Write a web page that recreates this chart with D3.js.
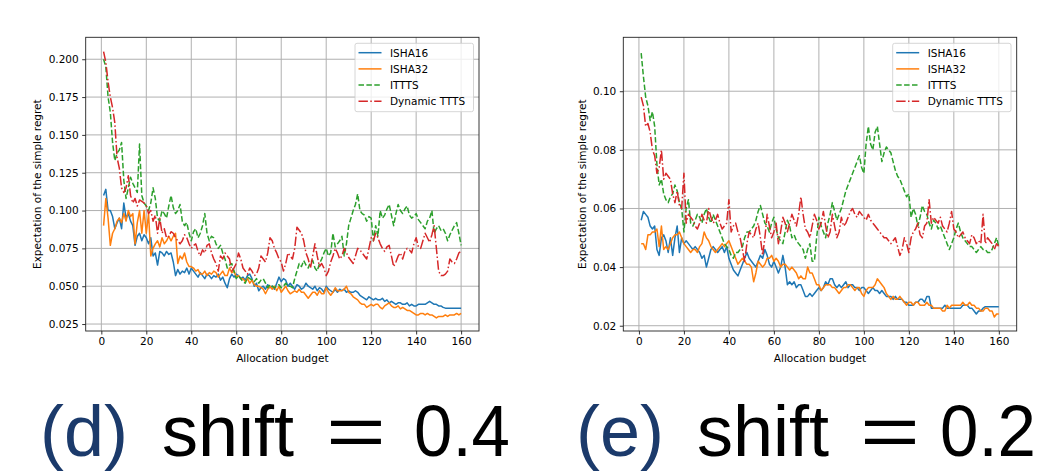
<!DOCTYPE html>
<html><head><meta charset="utf-8">
<script src="https://cdn.jsdelivr.net/npm/d3@7"></script>
<style>
html,body{margin:0;padding:0;background:#fff;}
svg{display:block;}
</style></head>
<body>
<svg id="chart" width="1052" height="472"></svg>
<script>
// ---------- data ----------
const seriesNames = ["ISHA16", "ISHA32", "ITTTS", "Dynamic TTTS"];
const xTicks = [0, 20, 40, 60, 80, 100, 120, 140, 160];
const yTicksD = [0.025, 0.050, 0.075, 0.100, 0.125, 0.150, 0.175, 0.200];
const yTicksE = [0.02, 0.04, 0.06, 0.08, 0.10];
const captionD = ["(d)", "shift", "=", "0.4"];
const captionE = ["(e)", "shift", "=", "0.2"];

// panel (d): shift = 0.4
const d_isha16 = [
.110,.114,.100,.100,.096,.088,.092,.095,.088,.105,
.095,.098,.093,.090,.077,.083,.085,.080,.084,.082,
.078,.082,.070,.072,.064,.073,.072,.070,.073,.071,
.072,.066,.057,.061,.058,.060,.059,.062,.058,.062,
.060,.058,.056,.059,.057,.055,.058,.057,.055,.057,
.056,.058,.054,.056,.052,.049,.055,.058,.056,.058,
.057,.055,.056,.054,.057,.058,.055,.050,.052,.047,
.049,.050,.048,.051,.049,.050,.048,.052,.056,.053,
.055,.054,.050,.052,.050,.048,.051,.050,.048,.049,
.052,.050,.049,.048,.050,.047,.049,.048,.046,.050,
.048,.047,.046,.048,.046,.048,.047,.048,.046,.047,
.046,.046,.047,.046,.044,.043,.042,.041,.043,.042,
.041,.042,.041,.041,.042,.040,.041,.039,.040,.039,
.038,.039,.039,.038,.038,.039,.037,.038,.037,.037,
.038,.038,.038,.038,.039,.040,.039,.038,.038,.037,
.037,.036,.0355,.0355,.0355,.0355,.0355,.0355,.0355,.0355];
const d_isha32 = [
.090,.108,.095,.077,.085,.088,.093,.095,.092,.098,
.093,.100,.096,.098,.078,.092,.100,.085,.100,.085,
.098,.070,.075,.078,.080,.076,.082,.078,.080,.083,
.080,.083,.085,.065,.070,.068,.072,.066,.063,.063,
.062,.060,.061,.058,.058,.060,.057,.059,.058,.060,
.059,.056,.058,.060,.057,.057,.062,.059,.060,.056,
.057,.055,.055,.053,.055,.052,.054,.051,.050,.050,
.049,.048,.045,.048,.050,.048,.050,.047,.050,.046,
.048,.050,.047,.045,.046,.047,.046,.048,.046,.046,
.044,.042,.044,.046,.046,.044,.047,.045,.045,.049,
.046,.044,.046,.049,.047,.047,.047,.048,.050,.046,
.045,.043,.042,.041,.039,.038,.038,.036,.037,.038,
.037,.038,.038,.036,.035,.037,.038,.039,.037,.036,
.036,.037,.035,.036,.035,.034,.034,.033,.032,.031,
.031,.032,.032,.031,.032,.031,.031,.030,.029,.030,
.030,.030,.031,.030,.031,.031,.031,.032,.031,.032];
const d_itts = [
.200,.195,.175,.165,.145,.133,.138,.140,.145,.120,
.108,.115,.122,.118,.115,.112,.144,.110,.105,.103,
.100,.105,.115,.108,.095,.093,.100,.098,.095,.103,
.110,.102,.098,.100,.104,.093,.090,.092,.085,.080,
.086,.088,.082,.085,.090,.098,.085,.080,.083,.082,
.078,.075,.077,.072,.068,.062,.064,.065,.060,.055,
.057,.055,.053,.052,.056,.055,.054,.053,.055,.052,
.054,.055,.052,.049,.051,.050,.049,.050,.051,.049,
.050,.052,.050,.050,.049,.055,.060,.065,.063,.067,
.064,.062,.066,.067,.062,.060,.065,.068,.072,.075,
.070,.072,.085,.076,.078,.080,.083,.070,.078,.090,
.095,.100,.104,.111,.100,.098,.097,.093,.096,.095,
.080,.090,.083,.100,.095,.097,.101,.104,.097,.090,
.098,.104,.100,.098,.101,.103,.097,.095,.096,.098,
.094,.092,.090,.088,.093,.095,.100,.085,.088,.090,
.087,.088,.085,.080,.084,.087,.090,.092,.085,.077];
const d_dyn = [
.205,.198,.185,.175,.168,.158,.135,.128,.115,.112,
.115,.123,.110,.105,.108,.103,.107,.106,.105,.103,
.098,.100,.093,.097,.085,.095,.085,.088,.082,.083,
.086,.085,.082,.080,.078,.080,.084,.082,.078,.075,
.077,.078,.073,.070,.074,.072,.077,.078,.072,.068,
.065,.060,.070,.068,.072,.070,.068,.060,.062,.065,
.072,.068,.062,.060,.058,.062,.060,.057,.058,.062,
.070,.068,.066,.072,.082,.080,.075,.072,.068,.066,
.060,.065,.072,.070,.068,.075,.089,.087,.085,.080,
.072,.068,.062,.070,.078,.070,.063,.065,.062,.057,
.060,.066,.070,.075,.072,.068,.070,.075,.072,.069,
.067,.065,.070,.075,.074,.072,.070,.068,.075,.082,
.080,.085,.082,.078,.075,.073,.076,.077,.070,.063,
.066,.070,.072,.068,.073,.075,.074,.072,.078,.082,
.076,.075,.080,.085,.082,.079,.084,.090,.075,.060,
.057,.057,.058,.060,.068,.066,.065,.068,.072,.073];

// panel (e): shift = 0.2
const e_isha16 = [
.056,.059,.058,.057,.054,.053,.054,.046,.044,.050,
.051,.049,.045,.050,.044,.050,.054,.045,.050,.048,
.049,.048,.047,.046,.047,.046,.045,.043,.044,.040,
.043,.046,.047,.046,.045,.046,.047,.045,.047,.043,
.041,.039,.038,.037,.039,.041,.043,.045,.043,.042,
.041,.040,.042,.044,.043,.046,.044,.041,.040,.042,
.040,.038,.040,.044,.040,.034,.035,.034,.035,.033,
.034,.034,.032,.030,.030,.031,.030,.031,.032,.033,
.032,.033,.035,.034,.036,.036,.034,.033,.034,.033,
.034,.035,.033,.034,.034,.033,.033,.032,.033,.033,
.032,.031,.032,.033,.032,.032,.031,.032,.031,.030,
.030,.030,.029,.030,.029,.029,.029,.028,.028,.027,
.027,.027,.028,.028,.029,.029,.028,.030,.030,.026,
.026,.026,.026,.026,.026,.027,.026,.026,.026,.026,
.026,.026,.026,.027,.027,.027,.026,.026,.025,.024,
.025,.025,.026,.0265,.0265,.0265,.0265,.0265,.0265,.0265];
const e_isha32 = [
.048,.048,.046,.051,.051,.052,.052,.053,.047,.054,
.046,.047,.046,.048,.050,.051,.051,.052,.050,.048,
.047,.046,.045,.046,.046,.045,.047,.048,.052,.050,
.049,.047,.046,.045,.046,.047,.048,.047,.048,.049,
.047,.045,.043,.041,.042,.043,.042,.041,.041,.040,
.035,.038,.042,.041,.040,.041,.043,.043,.044,.042,
.043,.042,.040,.041,.041,.040,.039,.040,.039,.038,
.036,.037,.036,.036,.040,.038,.038,.036,.034,.034,
.032,.033,.034,.034,.034,.033,.033,.032,.031,.032,
.033,.033,.034,.034,.033,.032,.033,.033,.031,.030,
.032,.033,.033,.033,.034,.036,.035,.034,.033,.031,
.030,.029,.030,.029,.029,.030,.029,.028,.027,.028,
.028,.027,.028,.028,.027,.027,.027,.028,.027,.027,
.026,.026,.026,.026,.025,.025,.027,.026,.027,.027,
.027,.027,.027,.028,.027,.027,.028,.027,.027,.026,
.026,.025,.025,.026,.026,.025,.025,.023,.024,.024];
const e_itts = [
.113,.105,.098,.095,.090,.093,.088,.075,.068,.070,
.065,.063,.062,.064,.065,.068,.066,.062,.060,.052,
.060,.063,.055,.054,.056,.058,.057,.055,.058,.060,
.057,.055,.058,.056,.054,.052,.050,.048,.047,.046,
.044,.043,.045,.045,.046,.047,.050,.052,.052,.053,
.054,.056,.059,.061,.058,.055,.054,.052,.055,.057,
.053,.050,.049,.048,.052,.056,.054,.050,.051,.049,
.048,.047,.046,.043,.046,.048,.042,.042,.050,.057,
.054,.052,.050,.055,.058,.062,.059,.056,.058,.060,
.063,.066,.068,.070,.072,.074,.076,.078,.074,.072,
.082,.088,.082,.080,.086,.088,.082,.076,.079,.081,
.080,.079,.076,.073,.071,.070,.068,.066,.064,.065,
.057,.060,.058,.054,.057,.061,.059,.058,.055,.053,
.056,.055,.053,.054,.052,.050,.048,.046,.048,.050,
.053,.055,.052,.050,.049,.048,.047,.047,.046,.045,
.046,.047,.046,.046,.045,.045,.046,.048,.050,.047];
const e_dyn = [
.098,.095,.088,.089,.086,.080,.078,.072,.074,.080,
.070,.072,.071,.070,.065,.062,.066,.061,.060,.072,
.055,.058,.057,.056,.054,.053,.055,.058,.056,.055,
.060,.057,.055,.056,.058,.055,.053,.054,.055,.063,
.052,.054,.055,.052,.050,.046,.042,.048,.052,.051,
.050,.053,.055,.050,.044,.050,.058,.054,.050,.052,
.055,.048,.052,.057,.055,.052,.055,.058,.056,.054,
.058,.064,.058,.053,.052,.050,.054,.058,.056,.053,
.055,.059,.054,.050,.052,.058,.054,.050,.052,.057,
.054,.055,.057,.059,.060,.058,.057,.059,.058,.057,
.056,.058,.056,.055,.054,.053,.052,.051,.050,.050,
.049,.048,.049,.050,.047,.044,.046,.050,.048,.045,
.050,.052,.053,.055,.051,.050,.054,.055,.063,.055,
.057,.056,.055,.057,.054,.053,.052,.055,.059,.053,
.052,.050,.051,.052,.050,.049,.048,.051,.050,.048,
.049,.048,.058,.048,.050,.049,.048,.046,.048,.047];

// ---------- drawing ----------
const colors = ["#1f77b4", "#ff7f0e", "#2ca02c", "#d62728"];
const dashes = [null, null, "5.5,2.4", "9.4,2.4,1.5,2.4"];
const FONT = "'DejaVu Sans', sans-serif";
const svg = d3.select("#chart");

const panels = [
  {left: 85.7, right: 479, yDomain: [0.0204, 0.2145], yTicks: yTicksD, fmt: d3.format(".3f"),
   series: [d_isha16, d_isha32, d_itts, d_dyn], ylabelX: 37, legend: {x0: 355, x1: 473.5}},
  {left: 623.3, right: 1016.7, yDomain: [0.0182, 0.1184], yTicks: yTicksE, fmt: d3.format(".2f"),
   series: [e_isha16, e_isha32, e_itts, e_dyn], ylabelX: 582, legend: {x0: 892.7, x1: 1011}}
];
const plotTop = 37.3, plotBottom = 331;

panels.forEach(p => {
  const x = d3.scaleLinear().domain([-6.95, 167.95]).range([p.left, p.right]);
  const y = d3.scaleLinear().domain(p.yDomain).range([plotBottom, plotTop]);
  const g = svg.append("g");

  // grid
  g.append("g").selectAll("line").data(xTicks).join("line")
    .attr("x1", d => x(d)).attr("x2", d => x(d)).attr("y1", plotTop).attr("y2", plotBottom)
    .attr("stroke", "#b0b0b0").attr("stroke-width", 1);
  g.append("g").selectAll("line").data(p.yTicks).join("line")
    .attr("y1", d => y(d)).attr("y2", d => y(d)).attr("x1", p.left).attr("x2", p.right)
    .attr("stroke", "#b0b0b0").attr("stroke-width", 1);

  // series
  const line = d3.line().x((d, i) => x(i + 1)).y(d => y(d));
  p.series.forEach((s, k) => {
    g.append("path").datum(s).attr("d", line)
      .attr("fill", "none").attr("stroke", colors[k]).attr("stroke-width", 1.5)
      .attr("stroke-linejoin", "round")
      .attr("stroke-dasharray", dashes[k]);
  });

  // axes
  const xAxis = d3.axisBottom(x).tickValues(xTicks).tickSize(3.5).tickPadding(3.5).tickFormat(d3.format("d"));
  const yAxis = d3.axisLeft(y).tickValues(p.yTicks).tickSize(3.5).tickPadding(3.5).tickFormat(p.fmt);
  const gx = g.append("g").attr("transform", `translate(0,${plotBottom})`).call(xAxis);
  const gy = g.append("g").attr("transform", `translate(${p.left},0)`).call(yAxis);
  [gx, gy].forEach(a => {
    a.select(".domain").remove();
    a.selectAll("line").attr("stroke", "#000").attr("stroke-width", 0.8);
    a.selectAll("text").attr("font-family", FONT).attr("font-size", 10.5).attr("fill", "#000");
  });

  // frame
  g.append("rect").attr("x", p.left).attr("y", plotTop).attr("width", p.right - p.left).attr("height", plotBottom - plotTop)
    .attr("fill", "none").attr("stroke", "#222").attr("stroke-width", 0.9);

  // labels
  g.append("text").attr("x", (p.left + p.right) / 2).attr("y", 362)
    .attr("text-anchor", "middle").attr("font-family", FONT).attr("font-size", 10.5)
    .text("Allocation budget");
  g.append("text").attr("transform", `translate(${p.ylabelX},${(plotTop + plotBottom) / 2}) rotate(-90)`)
    .attr("text-anchor", "middle").attr("dominant-baseline", "central")
    .attr("font-family", FONT).attr("font-size", 10.5)
    .text("Expectation of the simple regret");

  // legend
  const L = p.legend;
  const lg = g.append("g");
  lg.append("rect").attr("x", L.x0).attr("y", 43.3).attr("width", L.x1 - L.x0).attr("height", 68.4)
    .attr("rx", 2).attr("fill", "#fff").attr("fill-opacity", 0.8).attr("stroke", "#ccc").attr("stroke-width", 0.8);
  seriesNames.forEach((n, k) => {
    const ry = 52.7 + k * 16.2;
    lg.append("line").attr("x1", L.x0 + 3.5).attr("x2", L.x0 + 26.5).attr("y1", ry).attr("y2", ry)
      .attr("stroke", colors[k]).attr("stroke-width", 1.5).attr("stroke-dasharray", dashes[k]);
    lg.append("text").attr("x", L.x0 + 35).attr("y", ry).attr("dominant-baseline", "central")
      .attr("font-family", FONT).attr("font-size", 10.5).text(n);
  });
});

// captions
const CF = "'Liberation Sans', Arial, sans-serif";
function caption(parts, xs) {
  parts.forEach((t, i) => {
    const el = svg.append("text").attr("x", xs[i]).attr("y", 456)
      .attr("font-family", CF).attr("font-size", 72)
      .attr("fill", i === 0 ? "#1b3a6b" : "#000").text(t);
    if (t === "=") el.attr("textLength", 60).attr("lengthAdjust", "spacingAndGlyphs");
    if (i === 3) el.attr("textLength", 96).attr("lengthAdjust", "spacingAndGlyphs");
  });
}
caption(captionD, [40, 162, 326, 414]);
caption(captionE, [576, 697, 860, 940]);
</script>
</body></html>
